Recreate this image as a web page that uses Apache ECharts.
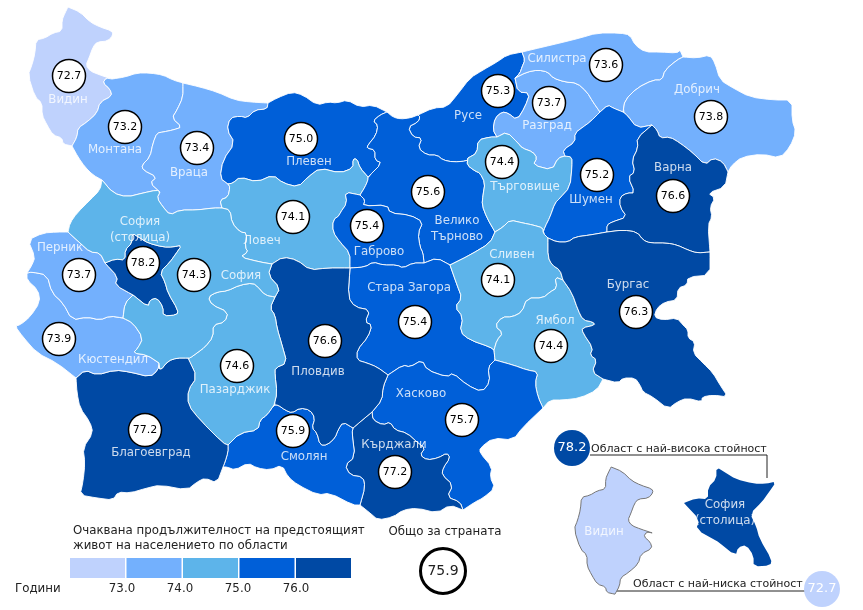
<!DOCTYPE html>
<html style='height: 100%'>
<head>
    <meta charset='utf-8'>
</head>
<body style='height: 100%; margin: 0; background: #fff'>
    <div id='container' style='width: 863px; height: 610px'></div>
    <script src="https://cdn.jsdelivr.net/npm/echarts@6/dist/echarts.min.js"></script>
    <script type="text/javascript">

var regionNames = ['Видин', 'Монтана', 'Враца', 'Плевен', 'Ловеч', 'Русе', 'Велико Търново', 'Габрово', 'Стара Загора',
    'Разград', 'Силистра', 'Добрич', 'Търговище', 'Шумен', 'Варна', 'Сливен', 'Ямбол', 'Бургас', 'Хасково', 'Кърджали',
    'Смолян', 'Пловдив', 'Пазарджик', 'Благоевград', 'Кюстендил', 'Перник', 'София (столица)', 'София'];
var regionValues = [72.7, 73.2, 73.4, 75.0, 74.1, 75.3, 75.6, 75.4, 75.4,
    73.7, 73.6, 73.8, 74.4, 75.2, 76.6, 74.1, 74.4, 76.3, 75.7, 77.2,
    75.9, 76.6, 74.6, 77.2, 73.9, 73.7, 78.2, 74.3];
var nationalValue = 75.9;
var highestValue = 78.2;
var lowestValue = 72.7;
var legendBreaks = [73.0, 74.0, 75.0, 76.0];
var legendColors = ['#bfd2fd', '#73b0fd', '#5db4ea', '#005fd8', '#0049a4'];

// where the value circle sits in each region, page pixels
var bubbleAt = [[69,76],[125,127],[197,148],[301,139],[293,217],[498,91],[428,192],[367,226],[415,322],
    [549,103],[606,65],[711,117],[502,162],[597,175],[673,196],[498,280],[551,346],[636,312],[462,420],[395,472],
    [293,431],[325,341],[237,366],[145,430],[59,339],[79,275],[143,263],[194,275]];
// where the region name sits
var nameAt = [[68,100],[115,150],[189,173],[309,162],[262,241],[468,116],[457,229],[379,252],[409,288],
    [547,126],[557,59],[697,90],[525,187],[591,200],[673,168],[512,255],[555,321],[628,285],[421,394],[394,445],
    [304,457],[318,372],[235,390],[151,453],[113,360],[60,248],[140,230],[241,276]];

// shared borders, page pixels
var arcs = {
    vidinN: [[68,7],[80,12],[90,22],[100,27],[112,31],[113,35],[108,41],[97,42],[93,47],[89,58],[86,65],[90,71],[100,75],[112,79]],
    vidinMon: [[112,79],[106,78],[103,83],[110,89],[112,96],[100,102],[97,113],[87,122],[78,128],[77,137],[72,146]],
    vidinW: [[72,146],[63,144],[62,138],[53,135],[47,125],[42,115],[42,103],[35,97],[28,75],[32,65],[35,53],[36,40],[45,38],[53,33],[62,31],[62,20],[65,13],[68,7]],
    monN: [[112,79],[125,77],[137,73],[150,73],[163,75],[173,80],[183,83]],
    monVr: [[183,83],[183,97],[177,110],[172,118],[182,127],[173,130],[163,132],[157,133],[153,143],[150,157],[142,165],[143,170],[157,177],[150,183],[160,192]],
    monS: [[102,180],[93,175],[85,167],[78,157],[72,146]],
    sofMon: [[102,180],[113,193],[127,197],[143,193],[157,190],[160,192]],
    sofVr: [[160,192],[157,198],[163,207],[170,215],[180,210],[197,210],[213,208],[222,208]],
    sofLov: [[222,208],[230,210],[232,223],[240,232],[247,233],[245,247],[248,252],[240,257],[260,262],[272,264]],
    sofPlov: [[272,264],[268,275],[280,288],[275,297]],
    sofPaz: [[275,297],[265,295],[258,287],[253,283],[240,285],[227,291],[217,292],[208,297],[212,305],[228,312],[225,322],[213,325],[213,337],[205,347],[197,353],[190,358],[188,358]],
    sofBlag: [[188,358],[177,358],[168,361],[160,371],[159,363]],
    sofW: [[68,232],[70,223],[77,213],[90,200],[100,190],[102,180]],
    sofPer2: [[123,318],[125,303],[133,295]],
    perSof: [[68,232],[80,243],[90,252],[100,253],[105,263]],
    perOut: [[68,232],[57,232],[43,233],[28,240],[35,257],[32,265],[27,273]],
    capN: [[105,263],[115,259],[125,260],[125,250],[132,243],[132,233],[140,238],[148,243],[163,247],[173,247],[182,245],[175,255],[170,262],[160,272],[165,282],[168,293],[178,310],[177,315],[163,316],[163,307],[157,298],[150,300],[148,307],[133,295]],
    capP: [[133,295],[115,285],[118,277],[105,263]],
    kyuPer: [[27,273],[32,272],[47,275],[52,293],[63,303],[72,320],[87,317],[100,320],[110,316],[123,318]],
    kyuSof: [[123,318],[133,323],[143,338],[138,348],[133,353],[147,355],[159,363]],
    kyuOut: [[27,273],[27,280],[38,290],[40,302],[30,317],[20,325],[15,326],[23,337],[37,353],[57,363],[76,378]],
    kyuBlag: [[76,378],[85,370],[97,375],[115,370],[130,372],[150,377],[158,370],[159,363]],
    blagPaz: [[188,358],[197,377],[188,390],[188,405],[200,420],[223,443],[228,445]],
    blagSmol: [[228,445],[228,452],[225,462],[223,467]],
    blagOut: [[223,467],[217,483],[205,478],[197,482],[187,490],[160,485],[147,488],[130,493],[118,492],[113,500],[97,498],[80,495],[83,482],[85,463],[83,448],[93,433],[90,422],[80,408],[77,393],[76,378]],
    pazPlov: [[275,297],[270,308],[275,315],[277,328],[282,345],[287,363],[275,368],[275,375],[277,393],[274,405]],
    pazSmol: [[274,405],[267,415],[260,420],[258,430],[240,433],[228,445]],
    plovLov: [[272,264],[283,257],[297,260],[310,270],[327,268],[350,268]],
    plovSz: [[350,268],[348,297],[355,307],[370,310],[365,322],[372,325],[368,337],[357,350],[357,360],[367,363],[377,367],[388,375]],
    plovHas: [[388,375],[383,387],[382,400],[372,412]],
    plovKar: [[372,412],[360,422],[353,428]],
    plovSmol: [[353,428],[343,422],[338,430],[335,438],[327,445],[320,445],[317,433],[312,428],[315,418],[310,410],[300,408],[292,413],[285,410],[278,405],[274,405]],
    smolOut: [[223,467],[227,467],[235,470],[248,463],[257,468],[270,470],[282,465],[288,477],[298,485],[318,495],[330,493],[353,505],[360,505]],
    smolKar: [[353,428],[352,433],[355,457],[345,465],[350,475],[363,477],[365,487],[360,505]],
    karOut: [[360,505],[370,513],[378,520],[393,517],[403,510],[417,508],[437,513],[450,505],[463,510]],
    hasKar: [[372,412],[373,420],[383,425],[390,422],[395,430],[407,433],[418,443],[425,448],[420,455],[427,460],[438,458],[447,453],[450,458],[443,468],[442,475],[453,485],[447,497],[460,502],[463,510]],
    hasOut: [[543,408],[523,427],[513,440],[493,438],[480,448],[480,453],[492,467],[490,477],[495,488],[483,498],[475,502],[463,510]],
    szHas: [[388,375],[403,365],[410,367],[422,360],[427,370],[447,377],[453,373],[467,385],[482,392],[490,382],[488,367],[495,360]],
    yamHas: [[495,360],[513,365],[527,370],[538,372],[535,383],[538,397],[543,408]],
    yamSz: [[494,350],[495,360]],
    slivSz: [[450,265],[457,285],[462,298],[455,307],[463,317],[460,332],[470,340],[490,347],[494,350]],
    vtSz: [[424,263],[437,258],[450,265]],
    gabSz: [[350,268],[365,267],[373,262],[383,265],[397,265],[403,268],[413,263],[424,263]],
    lovGab: [[360,195],[345,192],[347,203],[340,213],[340,215],[333,220],[333,232],[340,242],[350,253],[350,268]],
    vtGab: [[360,195],[365,200],[363,206],[387,205],[390,213],[410,215],[423,222],[418,233],[420,247],[423,253],[424,263]],
    plevLov: [[228,184],[233,183],[240,177],[257,182],[273,175],[283,183],[298,187],[308,177],[320,168],[340,173],[353,168],[353,159],[357,159],[360,168],[368,177]],
    lovVt: [[368,177],[368,180],[365,187],[360,195]],
    lovVr: [[222,208],[220,200],[228,197],[230,187],[228,184]],
    vrN: [[183,83],[200,87],[217,92],[235,100],[250,102],[268,103]],
    vrPlev: [[268,103],[267,109],[255,110],[247,118],[240,116],[230,118],[227,130],[235,143],[223,160],[220,178],[228,184]],
    plevN: [[268,103],[277,98],[292,92],[303,95],[317,105],[328,102],[337,103],[347,100],[360,107],[373,105],[387,112]],
    plevVt: [[387,112],[380,115],[373,121],[378,125],[376,135],[368,145],[367,148],[375,150],[375,160],[382,163],[368,177]],
    vtN: [[387,112],[393,117],[400,119],[410,118],[418,115]],
    vtRuse: [[418,115],[420,117],[418,122],[408,127],[413,137],[422,138],[418,148],[427,155],[437,155],[443,160],[453,162],[467,161],[468,158]],
    vtTarg: [[468,158],[467,165],[475,171],[480,173],[485,183],[483,195],[482,205],[487,218],[495,232]],
    vtSliv: [[495,232],[490,243],[470,255],[450,265]],
    ruN: [[418,115],[433,108],[447,107],[457,95],[470,78],[483,70],[497,62],[507,55],[522,52]],
    ruSil: [[522,52],[525,60],[522,67],[520,73],[515,78]],
    ruRaz: [[515,78],[518,92],[530,93],[525,107],[517,120],[508,113],[502,112],[495,118],[493,130],[497,137]],
    ruTarg: [[497,137],[490,137],[478,140],[477,153],[468,158]],
    razTarg: [[497,137],[507,132],[518,143],[522,148],[533,152],[537,158],[533,165],[552,170],[558,158],[565,156]],
    razSil: [[515,78],[527,72],[538,70],[548,72],[553,78],[565,82],[577,83],[587,92],[593,102],[600,112]],
    razShu: [[600,112],[590,122],[583,127],[575,133],[575,142],[563,150],[565,156]],
    targShu: [[565,156],[572,157],[572,167],[570,187],[560,198],[555,203],[550,217],[545,227],[543,233],[548,238]],
    targSliv: [[548,238],[543,233],[543,228],[533,225],[523,223],[510,220],[503,227],[495,232]],
    silN: [[522,52],[543,47],[560,43],[580,38],[597,33],[620,33],[630,35],[635,45],[645,52],[660,52],[677,53],[680,50],[683,57]],
    silDob: [[683,57],[677,60],[665,70],[662,80],[653,80],[637,88],[625,100],[623,112]],
    silShu: [[600,112],[608,105],[613,108],[623,112]],
    shuDob: [[623,112],[627,115],[637,128],[652,125]],
    dobOut: [[683,57],[697,58],[710,55],[715,63],[720,80],[733,88],[750,97],[773,100],[792,100],[792,120],[796,132],[790,147],[780,158],[762,154],[742,157],[732,165],[728,172]],
    dobVar: [[728,172],[723,162],[713,158],[705,165],[693,153],[680,143],[670,137],[660,138],[657,130],[652,125]],
    varOut: [[728,172],[725,187],[708,193],[715,198],[710,207],[712,217],[708,225],[710,252]],
    shuVar: [[607,232],[607,225],[612,222],[627,217],[620,207],[620,197],[627,193],[635,193],[628,177],[635,172],[632,160],[638,148],[637,138],[652,125]],
    shuBur: [[607,232],[590,235],[575,237],[568,242],[557,242],[548,238]],
    burVar: [[607,232],[623,230],[637,232],[643,240],[650,243],[667,243],[677,245],[688,250],[697,253],[710,252]],
    burOut: [[710,252],[710,275],[688,277],[687,285],[678,288],[677,300],[665,302],[657,308],[654,317],[663,320],[677,318],[683,325],[688,330],[688,338],[695,342],[693,353],[703,363],[713,373],[720,385],[728,397],[713,395],[702,397],[702,402],[687,398],[677,402],[668,409],[653,397],[643,392],[640,385],[635,378],[623,378],[618,383],[603,379]],
    slivBur: [[548,238],[548,257],[552,265],[560,270],[563,280]],
    slivYam: [[563,280],[555,277],[557,288],[550,292],[543,298],[527,298],[522,312],[512,317],[502,317],[495,326],[503,333],[497,340],[494,350]],
    yamBur: [[563,280],[572,293],[578,310],[583,320],[593,322],[595,325],[582,328],[583,333],[593,348],[590,355],[597,360],[592,372],[603,379]],
    yamOut: [[603,379],[597,390],[580,398],[563,400],[550,400],[543,408]]
};

// each region is a walk along the arcs, '-' walks one backwards
var regionRings = {
    'Видин': ['vidinN', 'vidinMon', 'vidinW'],
    'Монтана': ['monN', 'monVr', '-sofMon', 'monS', '-vidinMon'],
    'Враца': ['vrN', 'vrPlev', '-lovVr', '-sofVr', '-monVr'],
    'Плевен': ['plevN', 'plevVt', '-plevLov', '-vrPlev'],
    'Ловеч': ['plevLov', 'lovVt', 'lovGab', '-plovLov', '-sofLov', 'lovVr'],
    'Русе': ['ruN', 'ruSil', 'ruRaz', 'ruTarg', '-vtRuse'],
    'Велико Търново': ['vtN', 'vtRuse', 'vtTarg', 'vtSliv', '-vtSz', '-vtGab', '-lovVt', '-plevVt'],
    'Габрово': ['lovGab', 'gabSz', '-vtGab'],
    'Стара Загора': ['plovSz', 'szHas', '-yamSz', '-slivSz', '-vtSz', '-gabSz'],
    'Разград': ['-ruRaz', 'razSil', 'razShu', '-razTarg'],
    'Силистра': ['silN', 'silDob', '-silShu', '-razSil', '-ruSil'],
    'Добрич': ['dobOut', 'dobVar', '-shuDob', '-silDob'],
    'Търговище': ['-ruTarg', 'razTarg', 'targShu', 'targSliv', '-vtTarg'],
    'Шумен': ['-razShu', 'silShu', 'shuDob', '-shuVar', 'shuBur', '-targShu'],
    'Варна': ['-dobVar', 'varOut', '-burVar', 'shuVar'],
    'Сливен': ['-targSliv', 'slivBur', 'slivYam', '-slivSz', '-vtSliv'],
    'Ямбол': ['-slivYam', 'yamBur', 'yamOut', '-yamHas', '-yamSz'],
    'Бургас': ['burVar', 'burOut', '-yamBur', '-slivBur', '-shuBur'],
    'Хасково': ['-plovHas', 'szHas', 'yamHas', 'hasOut', '-hasKar'],
    'Кърджали': ['smolKar', 'karOut', '-hasKar', 'plovKar'],
    'Смолян': ['plovSmol', 'pazSmol', 'blagSmol', 'smolOut', '-smolKar'],
    'Пловдив': ['plovLov', 'plovSz', 'plovHas', 'plovKar', 'plovSmol', '-pazPlov', '-sofPlov'],
    'Пазарджик': ['-sofPaz', 'pazPlov', 'pazSmol', '-blagPaz'],
    'Благоевград': ['kyuBlag', '-sofBlag', 'blagPaz', 'blagSmol', 'blagOut'],
    'Кюстендил': ['kyuOut', 'kyuBlag', '-kyuSof', '-kyuPer'],
    'Перник': ['perOut', 'kyuPer', 'sofPer2', 'capP', '-perSof'],
    'София (столица)': ['capN', 'capP'],
    'София': ['sofMon', 'sofVr', 'sofLov', 'sofPlov', 'sofPaz', 'sofBlag', '-kyuSof', 'sofPer2', '-capN', '-perSof', 'sofW']
};

var PAGE_H = 610;
function toGeo(p) { return [p[0], PAGE_H - p[1]]; }

// round the corners a bit, the ends stay put so neighbours still meet
function soften(pts) {
    var out = [pts[0]];
    for (var i = 0; i < pts.length - 1; i++) {
        var a = pts[i], b = pts[i + 1];
        out.push([a[0] * 0.75 + b[0] * 0.25, a[1] * 0.75 + b[1] * 0.25]);
        out.push([a[0] * 0.25 + b[0] * 0.75, a[1] * 0.25 + b[1] * 0.75]);
    }
    out.push(pts[pts.length - 1]);
    return out;
}

function ringOf(name) {
    var ring = [];
    regionRings[name].forEach(function (key) {
        var back = key.charAt(0) === '-';
        var pts = soften(arcs[back ? key.slice(1) : key]);
        if (back) pts.reverse();
        ring = ring.concat(ring.length ? pts.slice(1) : pts);
    });
    return ring;
}

function feature(name, ring) {
    return {
        type: 'Feature',
        properties: { name: name },
        geometry: { type: 'Polygon', coordinates: [ring.map(toGeo)] }
    };
}

// the two enlarged shapes down in the corner reuse the same outlines
function insetRing(name, fromX, fromY, toX, toY, sx, sy) {
    return ringOf(name).map(function (p) {
        return [toX + (p[0] - fromX) * sx, toY + (p[1] - fromY) * sy];
    });
}

echarts.registerMap('bg', {
    type: 'FeatureCollection',
    features: regionNames.map(function (n) { return feature(n, ringOf(n)); })
});
echarts.registerMap('bgInset', {
    type: 'FeatureCollection',
    features: [
        feature('Видин', insetRing('Видин', 28, 7, 574, 467, 0.93, 0.915)),
        feature('София (столица)', insetRing('София (столица)', 105, 233, 684, 467, 1.2, 1.2))
    ]
});

var myChart = echarts.init(document.getElementById('container'));
var FONT = 'DejaVu Sans';
var pageBounds = [[0, PAGE_H], [863, 0]];

function geoBase(map) {
    return {
        map: map,
        aspectScale: 1,
        boundingCoords: pageBounds,
        left: 0, top: 0, width: 863, height: 610,
        silent: true,
        label: { show: false },
        emphasis: { disabled: true },
        select: { disabled: true }
    };
}

function splitName(n) {
    if (n === 'Велико Търново') return 'Велико\nТърново';
    if (n === 'София (столица)') return 'София\n(столица)';
    return n;
}

function textItem(str, x, y, align, size) {
    return {
        type: 'text', x: x, y: y, silent: true,
        style: { text: str, fill: '#222', font: (size || 11.8) + 'px "' + FONT + '"', align: align || 'left', verticalAlign: 'middle' }
    };
}

var graphics = [
    textItem('Очаквана продължителност на предстоящият', 73, 531),
    textItem('живот на населението по области', 73, 546),
    textItem('Години', 15, 589),
    textItem('Общо за страната', 445, 532, 'center'),
    textItem('Област с най-висока стойност', 591, 449, 'left', 11),
    textItem('Област с най-ниска стойност', 633, 584, 'left', 11),
    { type: 'polyline', silent: true, shape: { points: [[590, 455], [767, 455], [767, 478]] }, style: { stroke: '#222', fill: null, lineWidth: 1 } },
    { type: 'polyline', silent: true, shape: { points: [[617, 591], [805, 591]] }, style: { stroke: '#222', fill: null, lineWidth: 1 } }
];
legendBreaks.forEach(function (v, i) {
    graphics.push(textItem(v.toFixed(1), 122 + i * 58, 589, 'center'));
});

var option = {
    animation: false,
    backgroundColor: '#fff',
    geo: [
        Object.assign(geoBase('bg'), {
            itemStyle: { areaColor: '#ddd', borderColor: '#fff', borderWidth: 0.9 }
        }),
        Object.assign(geoBase('bgInset'), {
            itemStyle: { areaColor: legendColors[4], borderWidth: 0 },
            regions: [{ name: 'Видин', itemStyle: { areaColor: legendColors[0], borderColor: '#777', borderWidth: 1 } }]
        })
    ],
    visualMap: {
        type: 'piecewise',
        seriesIndex: 0,
        orient: 'horizontal',
        left: 70,
        top: 558,
        padding: 0,
        itemWidth: 55,
        itemHeight: 20,
        itemGap: 1.5,
        itemSymbol: 'rect',
        showLabel: false,
        selectedMode: false,
        hoverLink: false,
        pieces: legendColors.map(function (c, i) {
            // a value on a break belongs to the class above it (Плевен 75.0)
            var piece = { color: c, symbol: 'rect' };
            if (i > 0) piece.gte = legendBreaks[i - 1];
            if (i < legendBreaks.length) piece.lt = legendBreaks[i];
            return piece;
        })
    },
    graphic: graphics,
    series: [
        {
            type: 'map',
            geoIndex: 0,
            silent: true,
            data: regionNames.map(function (n, i) { return { name: n, value: regionValues[i] }; })
        },
        {
            // region names
            type: 'scatter',
            coordinateSystem: 'geo',
            geoIndex: 0,
            silent: true,
            symbolSize: 0,
            label: { show: true, position: 'inside', color: '#fff', fontFamily: FONT, fontSize: 11.8, lineHeight: 16, formatter: '{b}' },
            data: regionNames.map(function (n, i) { return { name: splitName(n), value: toGeo(nameAt[i]) }; })
                .concat([
                    { name: 'Видин', value: toGeo([604, 532]) },
                    { name: 'София\n(столица)', value: toGeo([725, 513]) }
                ])
        },
        {
            // value circles
            type: 'scatter',
            coordinateSystem: 'geo',
            geoIndex: 0,
            silent: true,
            symbolSize: 33,
            itemStyle: { color: '#fff', borderColor: '#000', borderWidth: 1.5, opacity: 1 },
            label: { show: true, position: 'inside', color: '#000', fontFamily: FONT, fontSize: 11, formatter: function (p) { return p.value[2].toFixed(1); } },
            data: regionNames.map(function (n, i) { return { name: n, value: toGeo(bubbleAt[i]).concat(regionValues[i]) }; })
        },
        {
            // national total
            type: 'scatter',
            coordinateSystem: 'geo',
            geoIndex: 0,
            silent: true,
            symbolSize: 45,
            itemStyle: { color: '#fff', borderColor: '#000', borderWidth: 3, opacity: 1 },
            label: { show: true, position: 'inside', color: '#222', fontFamily: FONT, fontSize: 14, formatter: function (p) { return p.value[2].toFixed(1); } },
            data: [{ name: 'Общо', value: toGeo([443, 571]).concat(nationalValue) }]
        },
        {
            // highest and lowest discs of the inset
            type: 'scatter',
            coordinateSystem: 'geo',
            geoIndex: 0,
            silent: true,
            symbolSize: 36,
            label: { show: true, position: 'inside', color: '#fff', fontFamily: FONT, fontSize: 13, formatter: function (p) { return p.value[2].toFixed(1); } },
            data: [
                { name: 'най-висока', value: toGeo([572, 448]).concat(highestValue), itemStyle: { color: legendColors[4], opacity: 1 } },
                { name: 'най-ниска', value: toGeo([822, 589]).concat(lowestValue), itemStyle: { color: legendColors[0], opacity: 1 } }
            ]
        }
    ]
};

myChart.setOption(option);
    </script>
</body>
</html>
